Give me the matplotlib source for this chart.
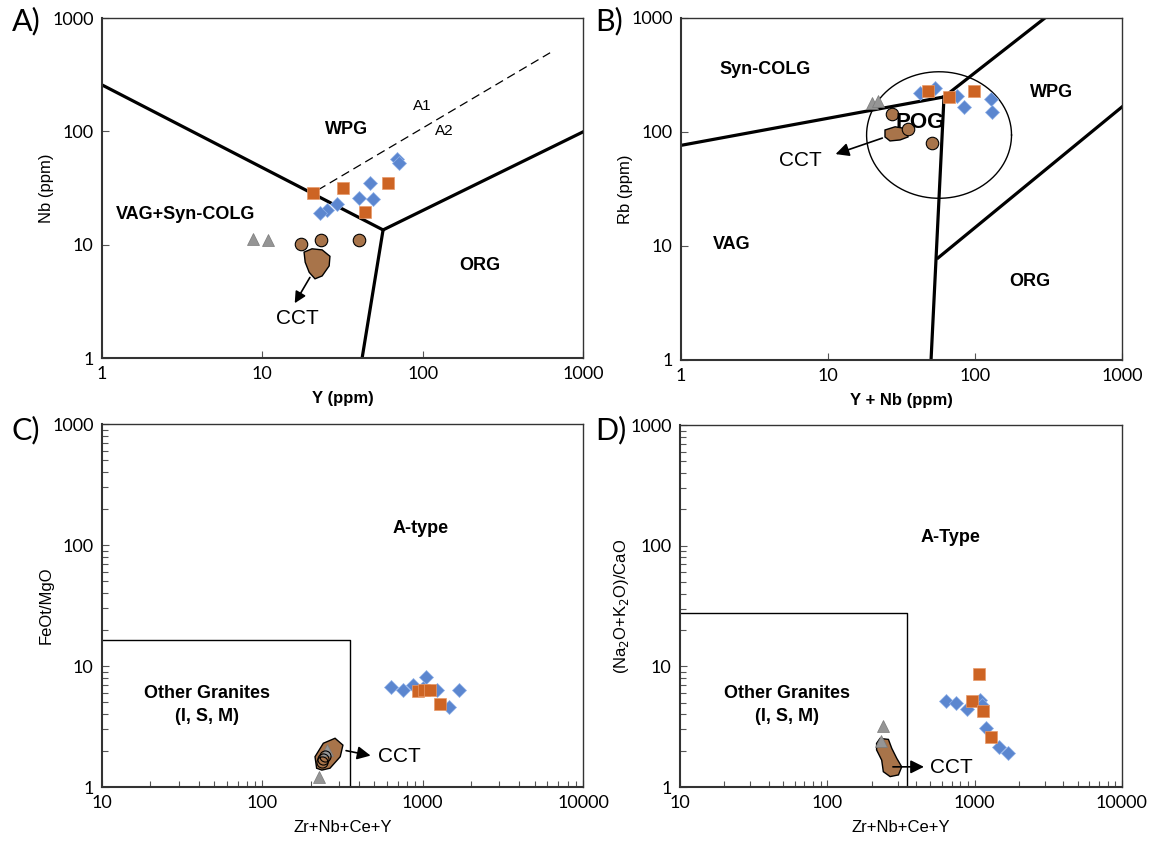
import matplotlib.pyplot as plt
import numpy as np
from matplotlib.ticker import FuncFormatter, NullLocator

plt.rcParams['font.family'] = ['Liberation Sans', 'DejaVu Sans']

# ---- data ----
# A) Nb vs Y
a_orange_x = [20.8, 31.7, 60.6, 43.7]
a_orange_y = [28.8, 31.5, 34.8, 19.3]
a_blue_x = [68.9, 71.6, 47.0, 40.3, 48.8, 29.1, 25.4, 22.9]
a_blue_y = [56.7, 52.3, 35.3, 26.0, 25.3, 22.7, 20.2, 18.9]
a_grey_x = [8.8, 10.9]
a_grey_y = [11.2, 11.0]
a_circ_x = [17.4, 23.2, 40.1]
a_circ_y = [10.1, 11.0, 11.0]
a_blob_x = [18.2, 20.4, 23.6, 26.4, 26.1, 23.6, 21.3, 19.6, 18.5]
a_blob_y = [8.6, 9.2, 9.0, 7.9, 6.5, 5.3, 5.0, 5.7, 7.0]
a_lines = [([1, 56.6], [257, 13.5]), ([56.6, 1000], [13.5, 99]), ([56.6, 41.9], [13.5, 1])]
a_dash = ([22.2, 623], [30.4, 494])

# B) Rb vs Y+Nb
b_orange_x = [48.1, 66.5, 98.5]
b_orange_y = [229, 201, 230]
b_blue_x = [42.2, 53.5, 75.1, 84.2, 128, 130]
b_blue_y = [218, 242, 207, 167, 194, 151]
b_grey_x = [19.8, 22.0]
b_grey_y = [179, 188]
b_circ_x = [27.1, 35.2, 51.2]
b_circ_y = [144, 106, 79.6]
b_blob_x = [24.4, 28.6, 32.4, 35.0, 35.0, 30.9, 26.4, 24.4]
b_blob_y = [104, 111, 108, 102, 90.4, 85.1, 83.4, 90.4]
b_lines = [([1, 61.5], [76.3, 203]), ([61.5, 299], [203, 1000]),
           ([61.5, 50.2], [203, 1]), ([56, 1000], [7.85, 166])]
b_pog_center = (56.9, 94.0)
b_pog_radius = (0.493, 0.555)  # decades

# C) FeOt/MgO vs Zr+Nb+Ce+Y
c_blue_x = [635, 752, 875, 1000, 1050, 1224, 1461, 1687]
c_blue_y = [6.67, 6.34, 6.97, 6.6, 8.16, 6.34, 4.6, 6.34]
c_orange_x = [932, 1021, 1112, 1285]
c_orange_y = [6.25, 6.34, 6.34, 4.82]
c_grey_x = [252, 227]
c_grey_y = [2.02, 1.22]
c_circ_x = [236, 240, 245]
c_circ_y = [1.62, 1.72, 1.80]
c_blob_x = [218, 213, 240, 284, 318, 306, 264, 235]
c_blob_y = [1.43, 1.78, 2.30, 2.53, 2.22, 1.78, 1.43, 1.38]
c_box = (350, 16.5)

# D) (Na2O+K2O)/CaO vs Zr+Nb+Ce+Y
d_blue_x = [640, 748, 884, 1088, 1117, 1195, 1471, 1695]
d_blue_y = [5.19, 4.94, 4.40, 5.26, 4.78, 3.06, 2.13, 1.90]
d_orange_x = [1076, 956, 1146, 1291]
d_orange_y = [8.63, 5.19, 4.26, 2.58]
d_grey_x = [240, 230]
d_grey_y = [3.2, 2.42]
d_blob_x = [216, 228, 260, 274, 296, 320, 304, 267, 240, 234, 216]
d_blob_y = [2.30, 2.53, 2.48, 2.09, 1.73, 1.47, 1.26, 1.22, 1.34, 1.67, 2.03]
d_box = (350, 27.5)

BLUE = '#5b86cf'
ORANGE = '#cd6424'
BROWN = '#a8744a'
GREY = '#959595'

fig = plt.figure(figsize=(11.5, 8.43), dpi=100)
axA = fig.add_axes([0.0887, 0.5753, 0.4183, 0.4033])
axB = fig.add_axes([0.5922, 0.5730, 0.3835, 0.4057])
axC = fig.add_axes([0.0887, 0.0664, 0.4183, 0.4306])
axD = fig.add_axes([0.5913, 0.0664, 0.3843, 0.4294])

fmt = FuncFormatter(lambda v, p: f'{v:g}')


def setup(ax, xlim, minor):
    ax.set_xscale('log')
    ax.set_yscale('log')
    ax.set_xlim(*xlim)
    ax.set_ylim(1, 1000)
    ax.xaxis.set_major_formatter(fmt)
    ax.yaxis.set_major_formatter(fmt)
    for s in ax.spines.values():
        s.set_linewidth(1.5)
        s.set_color('#333333')
    ax.spines['top'].set_linewidth(1.0)
    ax.spines['right'].set_linewidth(1.0)
    ax.tick_params(which='both', direction='in', top=False, right=False,
                   labelsize=13, color='#555555', pad=6)
    ax.tick_params(which='major', length=5, width=0.8)
    if minor:
        ax.tick_params(which='minor', length=4, width=0.8)
    else:
        ax.xaxis.set_minor_locator(NullLocator())
        ax.yaxis.set_minor_locator(NullLocator())
    for lab in ax.get_xticklabels() + ax.get_yticklabels():
        lab.set_fontfamily('Lato')


def points(ax, bx, by, ox, oy, gx, gy):
    ax.plot(gx, gy, '^', ms=9, color=GREY, mec='#7a7a7a', mew=0.5, zorder=4)
    ax.plot(bx, by, 'D', ms=7.5, color=BLUE, mec='#8fb0e8', mew=0.5, zorder=5)
    ax.plot(ox, oy, 's', ms=9, color=ORANGE, mec='#e89a6a', mew=0.5, zorder=6)


for ax, xl, mn in [(axA, (1, 1000), False), (axB, (1, 1000), False),
                   (axC, (10, 10000), True), (axD, (10, 10000), True)]:
    setup(ax, xl, mn)

# ---- A ----
for lx, ly in a_lines:
    axA.plot(lx, ly, color='black', lw=2.3, zorder=2)
axA.plot(*a_dash, '--', color='black', lw=0.9, dashes=(7, 4), zorder=2)
axA.fill(a_blob_x, a_blob_y, color=BROWN, ec='black', lw=1, zorder=3)
axA.plot(a_circ_x, a_circ_y, 'o', ms=9, color=BROWN, mec='black', mew=0.8, zorder=3)
points(axA, a_blue_x, a_blue_y, a_orange_x, a_orange_y, a_grey_x, a_grey_y)
axA.annotate('', xy=(15.6, 2.9), xytext=(20.2, 5.4),
             arrowprops=dict(arrowstyle='-|>', color='black', lw=1.2, mutation_scale=17))
axA.text(16.5, 2.25, 'CCT', fontsize=15, ha='center', va='center')
axA.text(33.7, 103, 'WPG', fontsize=13, weight='bold', ha='center', va='center')
axA.text(3.3, 18.3, 'VAG+Syn-COLG', fontsize=13, weight='bold', ha='center', va='center')
axA.text(228, 6.5, 'ORG', fontsize=13, weight='bold', ha='center', va='center')
axA.text(99, 168, 'A1', fontsize=11, ha='center', va='center')
axA.text(136, 100, 'A2', fontsize=11, ha='center', va='center')
axA.set_xlabel('Y (ppm)', fontsize=12, weight='bold', labelpad=6)
axA.set_ylabel('Nb (ppm)', fontsize=12)
axA.yaxis.set_label_coords(-0.100, 0.5)

# ---- B ----
for lx, ly in b_lines:
    axB.plot(lx, ly, color='black', lw=2.3, zorder=2)
t = np.linspace(0, 2 * np.pi, 200)
ex = 10 ** (np.log10(b_pog_center[0]) + b_pog_radius[0] * np.cos(t))
ey = 10 ** (np.log10(b_pog_center[1]) + b_pog_radius[1] * np.sin(t))
axB.plot(ex, ey, color='black', lw=1.0, zorder=2)
axB.fill(b_blob_x, b_blob_y, color=BROWN, ec='black', lw=1, zorder=3)
axB.plot(b_circ_x, b_circ_y, 'o', ms=9, color=BROWN, mec='black', mew=0.8, zorder=3)
points(axB, b_blue_x, b_blue_y, b_orange_x, b_orange_y, b_grey_x, b_grey_y)
axB.annotate('', xy=(10.8, 62.8), xytext=(24.4, 90),
             arrowprops=dict(arrowstyle='-|>', color='black', lw=1.2, mutation_scale=20))
axB.text(6.45, 55.7, 'CCT', fontsize=15, ha='center', va='center')
axB.text(3.73, 350, 'Syn-COLG', fontsize=13, weight='bold', ha='center', va='center')
axB.text(334, 224, 'WPG', fontsize=13, weight='bold', ha='center', va='center')
axB.text(42.3, 122, 'POG', fontsize=16, weight='bold', ha='center', va='center', zorder=7)
axB.text(2.22, 10.2, 'VAG', fontsize=13, weight='bold', ha='center', va='center')
axB.text(237, 4.83, 'ORG', fontsize=13, weight='bold', ha='center', va='center')
axB.set_xlabel('Y + Nb (ppm)', fontsize=12, weight='bold', labelpad=6)
axB.set_ylabel('Rb (ppm)', fontsize=12)
axB.yaxis.set_label_coords(-0.110, 0.5)

# ---- C ----
axC.plot([10, c_box[0], c_box[0]], [c_box[1], c_box[1], 1], color='black', lw=1.0, zorder=2)
axC.fill(c_blob_x, c_blob_y, color=BROWN, ec='black', lw=1, zorder=3)
points(axC, c_blue_x, c_blue_y, c_orange_x, c_orange_y, c_grey_x, c_grey_y)
axC.plot(c_circ_x, c_circ_y, 'o', ms=8, mfc='none', mec='black', mew=0.8, zorder=5)
axC.annotate('', xy=(492, 1.80), xytext=(320, 2.02),
             arrowprops=dict(arrowstyle='-|>', color='black', lw=1.2, mutation_scale=20))
axC.text(527, 1.78, 'CCT', fontsize=15, ha='left', va='center')
axC.text(964, 138, 'A-type', fontsize=13, weight='bold', ha='center', va='center')
axC.text(45, 4.76, 'Other Granites\n(I, S, M)', fontsize=13, weight='bold',
         ha='center', va='center', linespacing=1.4)
axC.set_xlabel('Zr+Nb+Ce+Y', fontsize=12, labelpad=6)
axC.set_ylabel('FeOt/MgO', fontsize=12)
axC.yaxis.set_label_coords(-0.100, 0.5)

# ---- D ----
axD.plot([10, d_box[0], d_box[0]], [d_box[1], d_box[1], 1], color='black', lw=1.0, zorder=2)
axD.fill(d_blob_x, d_blob_y, color=BROWN, ec='black', lw=1, zorder=3)
points(axD, d_blue_x, d_blue_y, d_orange_x, d_orange_y, d_grey_x, d_grey_y)
axD.annotate('', xy=(473, 1.47), xytext=(267, 1.47),
             arrowprops=dict(arrowstyle='-|>', color='black', lw=1.2, mutation_scale=20))
axD.text(498, 1.45, 'CCT', fontsize=15, ha='left', va='center')
axD.text(681, 118, 'A-Type', fontsize=13, weight='bold', ha='center', va='center')
axD.text(53, 4.78, 'Other Granites\n(I, S, M)', fontsize=13, weight='bold',
         ha='center', va='center', linespacing=1.4)
axD.set_xlabel('Zr+Nb+Ce+Y', fontsize=12, labelpad=6)
axD.set_ylabel('(Na$_2$O+K$_2$O)/CaO', fontsize=12)
axD.yaxis.set_label_coords(-0.110, 0.5)

for lbl, (x, y) in zip(['A)', 'B)', 'C)', 'D)'],
                       [(0.010, 0.975), (0.518, 0.975), (0.010, 0.49), (0.518, 0.49)]):
    fig.text(x, y, lbl, fontsize=22, family='Lato', ha='left', va='center')

fig.savefig('out.png', dpi=100)
